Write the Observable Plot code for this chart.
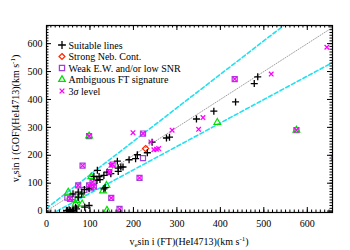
<!DOCTYPE html>
<html><head><meta charset="utf-8">
<script src="https://cdn.jsdelivr.net/npm/d3@7"></script>
<script src="https://cdn.jsdelivr.net/npm/@observablehq/plot@0.6"></script>
<style>body{margin:0;background:#fff}#c{position:relative;width:350px;height:250px}</style>
</head><body><div id="c"></div>
<script>
// ---- data (km/s) ----
const suitable = [[486,481],[478,457],[435,391],[385,358],[345,330],[283,265],[276,262],[243,247],[232,209],[209,202],[205,188],[190,184],[176,158],[171,158],[165,154],[163,179],[165,142],[148,134],[140,140],[132,128],[123,113],[117,146],[121,124],[109,124],[116,110],[132,80],[135,84],[98,80],[87,77],[81,62],[73,68],[61,62],[73,50],[98,20],[88,14],[69,8],[67,14],[52,5],[48,2],[54,2],[46,2],[60,0],[56,0],[62,3]];
const strongNeb = [[228,224]];
const weak = [[433,473],[222,278],[222,190],[152,167],[214,119],[149,47],[168,8],[98,269],[83,163],[144,140],[106,104],[109,88],[102,82],[98,92],[87,76],[73,92],[48,48],[60,50],[54,44],[575,290]];
const ambiguous = [[393,318],[575,290],[98,269],[103,123],[138,92],[130,72],[139,3],[50,68],[69,38],[82,26],[80,56],[67,26]];
const sigma3 = [[645,587],[517,491],[360,335],[350,293],[289,290],[199,281],[240,248],[247,220],[253,222],[258,224],[148,164],[146,140],[660,190],[433,473],[222,278],[152,167],[214,119],[149,47],[168,8],[98,269],[83,163],[144,140],[106,104],[109,88],[98,92],[73,92],[54,44],[575,290]];
const oneToOne = [[0,0],[660,660]];
const upperBound = [[0,10],[560,682]];
const lowerBound = [[24,0],[660,534]];
const xTicks = [0,100,200,300,400,500,600];
const yTicks = [0,100,200,300,400,500,600];
const xMinor = d3.range(0,660,10);
const yMinor = d3.range(0,670,10);
const legendLabels = ["Suitable lines","Strong Neb. Cont.","Weak E.W. and/or low SNR","Ambiguous FT signature","3σ level"];

const W=350,H=250,mL=46,mR=18,mT=25,mB=38;
const pw=W-mL-mR, ph=H-mT-mB;
const X=d=>d[0], Y=d=>d[1];
const cyan="#22e0f0", mag="#ff00ff", purp="#a040d8", grn="#00e000", red="#ff2a00";

const plot = Plot.plot({
  width:W,height:H,marginLeft:mL,marginRight:mR,marginTop:mT,marginBottom:mB,
  style:{fontFamily:"Liberation Serif",fontSize:"10px",background:"white",color:"black"},
  x:{domain:[0,658],label:null},
  y:{domain:[-5,665],label:null},
  marks:[
    Plot.line(oneToOne,{x:X,y:Y,stroke:"#a0a0a0",strokeWidth:1,strokeDasharray:"1,1.6",clip:true}),
    Plot.line(upperBound,{x:X,y:Y,stroke:cyan,strokeWidth:1.6,strokeDasharray:"4,2.5",clip:true}),
    Plot.line(lowerBound,{x:X,y:Y,stroke:cyan,strokeWidth:1.6,strokeDasharray:"4,2.5",clip:true}),
    Plot.dot(weak,{x:X,y:Y,symbol:"square2",r:3.2,stroke:purp,strokeWidth:1.2,fill:"none",clip:true}),
    Plot.dot(ambiguous,{x:X,y:Y,symbol:"triangle2",r:3.2,stroke:grn,strokeWidth:1.2,fill:"none",clip:true}),
    Plot.dot(strongNeb,{x:X,y:Y,symbol:"diamond2",r:2.8,stroke:red,strokeWidth:1.2,fill:"none",clip:true}),
    Plot.dot(suitable,{x:X,y:Y,symbol:"plus",r:2.4,stroke:"black",strokeWidth:1.3,clip:true}),
    Plot.dot(sigma3,{x:X,y:Y,symbol:"times",r:2.2,stroke:mag,strokeWidth:1.3,clip:true}),
    Plot.tickX(xTicks,{x:d=>d,insetTop:ph-5,stroke:"black"}),
    Plot.tickX(xTicks,{x:d=>d,insetBottom:ph-5,stroke:"black"}),
    Plot.tickX(xMinor,{x:d=>d,insetTop:ph-2.5,stroke:"black"}),
    Plot.tickX(xMinor,{x:d=>d,insetBottom:ph-2.5,stroke:"black"}),
    Plot.tickY(yTicks,{y:d=>d,insetRight:pw-5,stroke:"black"}),
    Plot.tickY(yTicks,{y:d=>d,insetLeft:pw-5,stroke:"black"}),
    Plot.tickY(yMinor,{y:d=>d,insetRight:pw-2.5,stroke:"black"}),
    Plot.tickY(yMinor,{y:d=>d,insetLeft:pw-2.5,stroke:"black"}),
    Plot.axisX({ticks:xTicks,tickSize:0,tickPadding:7,tickFormat:d=>String(d),label:null}),
    Plot.axisY({ticks:yTicks,tickSize:0,tickPadding:4,tickFormat:d=>String(d),label:null}),
    Plot.frame({stroke:"black",strokeWidth:1.2})
  ]
});
document.getElementById("c").appendChild(plot);
const svg = d3.select(plot);

// axis labels
function label(g, a){
  const t = g.append("text").attr("font-family","Liberation Serif").attr("font-size",10).attr("fill","black").attr("text-anchor","middle");
  t.append("tspan").text("v");
  t.append("tspan").attr("font-size",7).attr("dy",2).text("e");
  t.append("tspan").attr("dy",-2).text("sin i "+a+"(HeI4713)(km s");
  t.append("tspan").attr("font-size",7).attr("dy",-4).text("-1");
  t.append("tspan").attr("dy",4).text(")");
  return t;
}
label(svg.append("g").attr("transform",`translate(${mL+pw/2},245)`),"(FT)");
label(svg.append("g").attr("transform",`translate(19,${mT+ph/2}) rotate(-90)`),"(GOF)");

// legend
const sym = [d3.symbolPlus,d3.symbolDiamond2,d3.symbolSquare2,d3.symbolTriangle2,d3.symbolTimes];
const cols = ["black",red,purp,grn,mag];
const sizes = [22,22,34,30,16];
const lg = svg.append("g").attr("text-anchor","start");
legendLabels.forEach((s,i)=>{
  const y = 45 + i*11.5;
  lg.append("path").attr("d",d3.symbol(sym[i],sizes[i])()).attr("transform",`translate(62,${y})`)
    .attr("fill","none").attr("stroke",cols[i]).attr("stroke-width",1.3);
  const t = lg.append("text").attr("x",68.5).attr("y",y).attr("dy","0.35em").attr("text-anchor","start")
    .attr("font-family","Liberation Serif").attr("font-size",10).attr("fill","black");
  if(s.includes("σ")){
    t.append("tspan").text("3");
    t.append("tspan").attr("font-style","italic").text("σ");
    t.append("tspan").text(" level");
  } else t.text(s);
});
</script></body></html>
